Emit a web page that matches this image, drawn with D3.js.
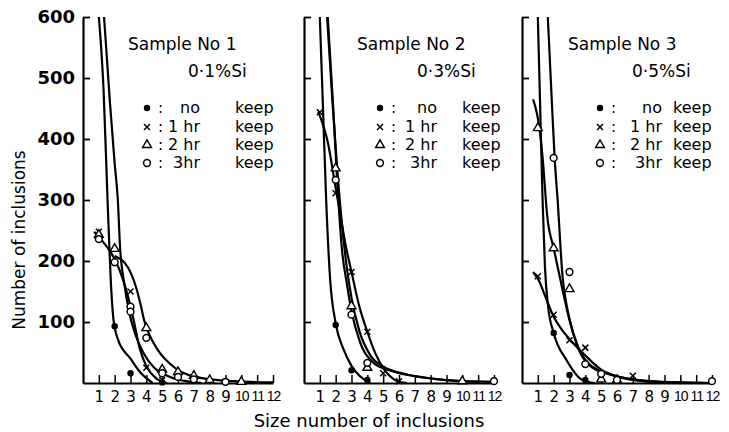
<!DOCTYPE html>
<html>
<head>
<meta charset="utf-8">
<script src="https://cdnjs.cloudflare.com/ajax/libs/d3/7.8.5/d3.min.js"></script>
<style>
  body { margin: 0; background: #fff; }
  svg { font-family: "DejaVu Sans", sans-serif; }
</style>
</head>
<body>
<div id="chart"></div>
<script>
// ticks / labels
var sizeTicks   = [1, 2, 3, 4, 5, 6, 7, 8, 9, 10, 11, 12];
var countTicks  = [100, 200, 300, 400, 500, 600];
var sampleNames = ["Sample No 1", "Sample No 2", "Sample No 3"];
var siliconText = ["0·1%Si", "0·3%Si", "0·5%Si"];
var keepNames   = ["no", "1 hr", "2 hr", "3hr"];

// measured points [size, count] : no keep, 1hr, 2hr, 3hr
var s1NoKeep = [[2, 93], [3, 16], [5, 1]];
var s1Keep1  = [[1, 248], [3, 150], [4, 25], [5, 5]];
var s1Keep2  = [[1, 243], [2, 220], [4, 90], [5, 22], [6, 18], [7, 12], [8, 5], [10, 2]];
var s1Keep3  = [[1, 236], [2, 198], [3, 125], [3, 117], [4, 74], [5, 16], [6, 10], [7, 6], [9, 2]];

var s2NoKeep = [[2, 95], [3, 21], [4, 5]];
var s2Keep1  = [[1, 444], [2, 311], [3, 182], [4, 84], [5, 16], [6, 3]];
var s2Keep2  = [[2, 352], [3, 126], [4, 25], [10, 3]];
var s2Keep3  = [[2, 333], [3, 112], [4, 33], [12, 3]];

var s3NoKeep = [[2, 82], [3, 13], [4, 5]];
var s3Keep1  = [[1, 175], [2, 112], [3, 70], [4, 58], [7, 12]];
var s3Keep2  = [[1, 418], [2, 221], [3, 154], [5, 6], [6, 5]];
var s3Keep3  = [[2, 369], [3, 182], [4, 31], [5, 15], [6, 5], [12, 3]];

// hand drawn fitted curves [size, count]
var s1CurveNo = [[1.0, 600], [1.3, 480], [1.55, 300], [1.75, 170], [1.92, 105], [2.2, 72], [3.0, 40], [3.6, 18], [4.4, 0]];
var s1Curve1  = [[0.7, 248], [1.65, 218], [2.1, 198], [2.85, 141], [3.2, 103], [3.6, 55], [4.0, 28], [4.6, 8], [5.3, 0]];
var s1Curve2  = [[2.0, 208], [2.85, 189], [3.35, 157], [3.67, 125], [3.86, 103], [4.1, 85], [4.7, 55], [5.8, 25], [7.5, 8], [9.5, 3], [12, 1]];
var s1Curve3  = [[1.33, 600], [1.7, 460], [2.0, 360], [2.2, 300], [2.34, 223], [2.6, 164], [2.9, 118], [3.3, 80], [3.8, 50], [4.5, 25], [5.5, 10], [6.5, 3], [7.5, 0]];

var s2CurveNo = [[1.0, 600], [1.2, 450], [1.4, 300], [1.65, 170], [2.0, 98], [2.5, 55], [3.0, 28], [3.5, 12], [4.2, 0]];
var s2Curve1  = [[0.9, 445], [1.5, 395], [2.0, 320], [2.2, 290], [2.6, 230], [3.0, 182], [3.5, 125], [4.0, 84], [4.5, 49], [5.1, 21], [5.9, 3], [6.5, 0]];
var s2Curve2  = [[1.46, 600], [1.8, 460], [2.1, 350], [2.4, 260], [2.7, 190], [3.0, 140], [3.5, 85], [4.2, 45], [5.0, 27], [6.5, 14], [8.5, 6], [10, 3], [11, 2]];
var s2Curve3  = [[1.5, 600], [1.85, 450], [2.1, 330], [2.4, 218], [2.7, 164], [3.0, 118], [3.5, 70], [4.4, 33], [5.5, 20], [7.6, 9], [10, 3], [12, 2]];

var s3CurveNo = [[1.0, 600], [1.15, 450], [1.3, 300], [1.45, 190], [1.65, 125], [2.0, 82], [2.8, 38], [3.8, 5], [4.6, 0]];
var s3Curve1  = [[0.7, 182], [1.06, 168], [1.5, 140], [1.94, 112], [2.5, 88], [3.0, 72], [3.5, 58], [4.0, 45], [5, 22], [6, 11], [7, 6], [9, 2], [12, 0]];
var s3Curve2  = [[0.7, 465], [1.1, 418], [1.3, 370], [1.6, 272], [2.0, 221], [2.6, 148], [3.0, 103], [3.6, 54], [4.4, 26], [5.7, 13], [7.2, 5], [9, 1], [12, 0]];
var s3Curve3  = [[1.63, 600], [1.85, 480], [2.06, 369], [2.25, 300], [2.56, 175], [2.8, 130], [3.0, 105], [3.5, 62], [4.2, 32], [5.5, 15], [7, 5], [9, 1], [12, 0]];

var panelPoints = [
  [s1NoKeep, s1Keep1, s1Keep2, s1Keep3],
  [s2NoKeep, s2Keep1, s2Keep2, s2Keep3],
  [s3NoKeep, s3Keep1, s3Keep2, s3Keep3]
];
var panelCurves = [
  [s1CurveNo, s1Curve1, s1Curve2, s1Curve3],
  [s2CurveNo, s2Curve1, s2Curve2, s2Curve3],
  [s3CurveNo, s3Curve1, s3Curve2, s3Curve3]
];

// layout (pixels)
var width = 729, height = 432;
var left = [83, 304, 522];
var panelW = 190;
var top0 = 17, bottom0 = 383;
var legendX  = [147, 380, 600];
var labelEnd = [200, 437, 662];
var keepX    = [235, 462, 673];
var titleX   = [128, 357, 568];
var siX      = [188, 417, 632];
var rowY     = [108, 127, 145, 163];

var svg = d3.select("#chart")
    .append("svg")
    .attr("width", width)
    .attr("height", height);

var y = d3.scaleLinear().domain([0, 600]).range([bottom0, top0]);

// draws one keep-time marker at (cx, cy)
var drawMarker = (g, kind, cx, cy) => {
  if (kind === 0) {
    g.append("circle").attr("cx", cx).attr("cy", cy).attr("r", 3.2).attr("fill", "#000");
  } else if (kind === 1) {
    var s = 3;
    g.append("path")
      .attr("d", "M" + (cx - s) + "," + (cy - s) + "L" + (cx + s) + "," + (cy + s) +
                 "M" + (cx - s) + "," + (cy + s) + "L" + (cx + s) + "," + (cy - s))
      .attr("stroke", "#000").attr("stroke-width", 1.5).attr("fill", "none");
  } else if (kind === 2) {
    g.append("path")
      .attr("d", d3.symbol().type(d3.symbolTriangle).size(34)())
      .attr("transform", "translate(" + cx + "," + cy + ")")
      .attr("fill", "#fff").attr("stroke", "#000").attr("stroke-width", 1.4);
  } else {
    g.append("circle").attr("cx", cx).attr("cy", cy).attr("r", 3.4)
      .attr("fill", "#fff").attr("stroke", "#000").attr("stroke-width", 1.5);
  }
};

left.forEach((x0, p) => {
  var x = d3.scaleLinear().domain([0, 12]).range([x0, x0 + panelW]);
  var g = svg.append("g");

  svg.append("clipPath").attr("id", "clip" + p)
    .append("rect")
    .attr("x", x0).attr("y", top0)
    .attr("width", panelW + 10).attr("height", bottom0 - top0);

  // curves
  var line = d3.line()
      .x((d) => x(d[0]))
      .y((d) => y(d[1]))
      .curve(d3.curveMonotoneX);

  g.append("g").attr("clip-path", "url(#clip" + p + ")")
    .selectAll("path")
    .data(panelCurves[p])
    .enter()
    .append("path")
    .attr("d", line)
    .attr("fill", "none")
    .attr("stroke", "#000")
    .attr("stroke-width", 2.2);

  // y axis, ticks pointing inward
  var yAxis = d3.axisLeft(y)
      .tickValues(countTicks)
      .tickSizeInner(-7)
      .tickSizeOuter(0)
      .tickPadding(8);
  if (p > 0) yAxis.tickFormat("");

  var ya = g.append("g")
      .attr("transform", "translate(" + x0 + ",0)")
      .call(yAxis);
  ya.select(".domain").attr("stroke-width", 2.2);
  ya.selectAll("line").attr("stroke-width", 1.8);
  ya.selectAll("text")
    .attr("font-size", 18)
    .attr("font-weight", "bold")
    .attr("font-family", "DejaVu Sans")
    .attr("fill", "#000");

  // x axis, ticks pointing up
  var xAxis = d3.axisBottom(x)
      .tickValues(sizeTicks)
      .tickSizeInner(-8)
      .tickSizeOuter(0)
      .tickPadding(8);

  var xa = g.append("g")
      .attr("transform", "translate(0," + bottom0 + ")")
      .call(xAxis);
  xa.select(".domain").attr("stroke-width", 2.2);
  xa.selectAll("line").attr("stroke-width", 1.5);
  xa.selectAll("text")
    .attr("font-size", 15)
    .attr("font-family", "DejaVu Sans")
    .attr("fill", "#000")
    .each(function(d) {
      // two-digit sizes are squeezed, as in the print
      if (d >= 10) {
        d3.select(this)
          .attr("font-family", "Liberation Sans")
          .attr("font-size", 14)
          .attr("letter-spacing", "-1px");
      }
    });

  // data markers
  panelPoints[p].forEach((pts, k) => {
    pts.forEach((d) => drawMarker(g, k, x(d[0]), y(d[1])));
  });

  // titles
  g.append("text")
    .attr("x", titleX[p]).attr("y", 50)
    .attr("font-size", 17)
    .text(sampleNames[p]);
  g.append("text")
    .attr("x", siX[p]).attr("y", 77)
    .attr("font-size", 17)
    .text(siliconText[p]);

  // legend
  keepNames.forEach((name, k) => {
    var cy = rowY[k];
    drawMarker(g, k, legendX[p], cy);
    g.append("text").attr("x", legendX[p] + 11).attr("y", cy + 5)
      .attr("font-size", 15).text(":");
    g.append("text").attr("x", labelEnd[p]).attr("y", cy + 5)
      .attr("font-size", 16).attr("text-anchor", "end").text(name);
    g.append("text").attr("x", keepX[p]).attr("y", cy + 5)
      .attr("font-size", 16).text("keep");
  });
});

// axis titles
svg.append("text")
  .attr("x", 369).attr("y", 427)
  .attr("text-anchor", "middle")
  .attr("font-size", 18)
  .text("Size number of inclusions");

svg.append("text")
  .attr("transform", "translate(25,240) rotate(-90)")
  .attr("text-anchor", "middle")
  .attr("font-size", 17)
  .text("Number of inclusions");
</script>
</body>
</html>
